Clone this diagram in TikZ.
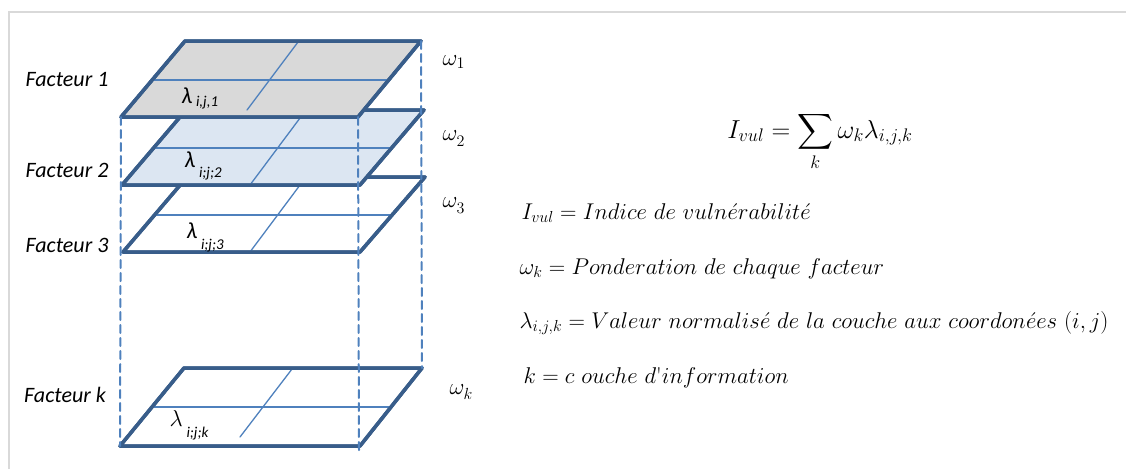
\RequirePackage{fix-cm}
\documentclass[tikz,border=0pt]{standalone}
\usepackage{tkz-euclide}
\usepackage{amsmath}
\usepackage{fontspec}
\newfontfamily\calibri{Carlito}
\definecolor{edgeblue}{RGB}{56,93,138}
\definecolor{gridblue}{RGB}{79,129,189}
\definecolor{greyfill}{RGB}{217,217,217}
\definecolor{bluefill}{RGB}{220,230,242}
\definecolor{framegrey}{RGB}{217,217,217}
\tikzset{
  couche/.style={line width=3.5pt,draw=edgeblue},
  grille/.style={line width=1.3pt,draw=gridblue},
  repere/.style={line width=2pt,draw=gridblue,dash pattern=on 8pt off 5pt},
  facteur/.style={font=\fontsize{22}{26}\selectfont\calibri\itshape},
  poids/.style={anchor=base west,font=\fontsize{23}{26}\selectfont},
  indice/.style={anchor=base west,font=\fontsize{23}{26}\selectfont\calibri},
  definition/.style={anchor=base west,font=\fontsize{22.8}{26}\selectfont}
}

\begin{document}
\begin{tikzpicture}[x=1pt,y=-1pt]

    \useasboundingbox (0,0) rectangle (1126,469);
    \draw[framegrey,line width=1.5pt] (9,469) -- (9,12) -- (1126,12);

    % couche k
    \tkzDefPoint(120,446){Ak} \tkzDefPoint(360,446){Bk}
    \tkzDefPoint(422,368){Ck} \tkzDefPoint(184,368){Dk}
    \tkzDefPoint(152,407){Ek} \tkzDefPoint(391,407){Fk}
    \tkzDefPoint(292,369){Gk} \tkzDefPoint(240,437){Hk}
    \tkzDefPoint(359,451){Pk}
    \tkzDrawPolygon[couche,fill=white](Ak,Bk,Ck,Dk)
    \tkzDrawSegments[grille](Ek,Fk Gk,Hk)
    \tkzDrawPolygon[couche](Ak,Bk,Ck,Dk)

    % couche 3
    \tkzDefPoint(123,252){A3} \tkzDefPoint(360,252){B3}
    \tkzDefPoint(425,177){C3} \tkzDefPoint(187,177){D3}
    \tkzDefPoint(155,215){E3} \tkzDefPoint(393,215){F3}
    \tkzDefPoint(306,177){G3} \tkzDefPoint(250,252){H3}
    \tkzDrawPolygon[couche,fill=white](A3,B3,C3,D3)
    \tkzDrawSegments[grille](E3,F3 G3,H3)
    \tkzDrawPolygon[couche](A3,B3,C3,D3)

    % couche 2
    \tkzDefPoint(122,185){A2} \tkzDefPoint(360,185){B2}
    \tkzDefPoint(424,110){C2} \tkzDefPoint(186,110){D2}
    \tkzDefPoint(154,148){E2} \tkzDefPoint(392,148){F2}
    \tkzDefPoint(306,110){G2} \tkzDefPoint(250,185){H2}
    \tkzDrawPolygon[couche,fill=bluefill](A2,B2,C2,D2)
    \tkzDrawSegments[grille](E2,F2 G2,H2)
    \tkzDrawPolygon[couche](A2,B2,C2,D2)

    % couche 1
    \tkzDefPoint(121,117){A1} \tkzDefPoint(358,117){B1}
    \tkzDefPoint(421,41){C1} \tkzDefPoint(185,41){D1}
    \tkzDefPoint(153,80){E1} \tkzDefPoint(389,80){F1}
    \tkzDefPoint(298,42){G1} \tkzDefPoint(247,110){H1}
    \tkzDrawPolygon[couche,fill=greyfill](A1,B1,C1,D1)
    \tkzDrawSegments[grille](E1,F1 G1,H1)
    \tkzDrawPolygon[couche](A1,B1,C1,D1)

    % aretes verticales
    \tkzDrawSegments[repere](A1,Ak B1,Pk C1,Ck)

    % etiquettes
    \node[facteur] (fac1) at (67,80) {Facteur 1};
    \node[facteur] (fac2) at (67,170) {Facteur 2};
    \node[facteur] (fac3) at (67,245) {Facteur 3};
    \node[facteur] (fack) at (65,395) {Facteur k};

    \node[poids] (w1) at (439,65) {$\omega_1$};
    \node[poids] (w2) at (439,140) {$\omega_{\lower3pt\hbox{$\scriptstyle 2$}}$};
    \node[poids] (w3) at (439,207) {$\omega_{\lower3pt\hbox{$\scriptstyle 3$}}$};
    \node[poids] (wk) at (446,394) {$\omega_{\lower2pt\hbox{$\scriptstyle k$}}$};

    \node[indice] (l1) at (178,103) {\itshape λ\,\raisebox{-3pt}{\fontsize{15}{15}\selectfont i,j,1}};
    \node[indice] (l2) at (181,167) {\itshape λ\,\raisebox{-10pt}{\fontsize{15}{15}\selectfont i;j;2}};
    \node[indice] (l3) at (183,238) {\itshape λ\,\raisebox{-11pt}{\fontsize{15}{15}\selectfont i;j;3}};
    \node[indice] (lk) at (166,426) {$\lambda$\,\raisebox{-11pt}{\fontsize{15}{15}\selectfont\itshape i;j;k}};

    \node[anchor=base,font=\fontsize{26}{30}\selectfont] (formule) at (820,138)
      {$\displaystyle I_{vul}=\sum_k\omega_k\lambda_{i,j,k}$};

    \node[definition] (d1) at (518,219) {$I_{vul}=Indice\ de\ vuln\acute{e}rabilit\acute{e}$};
    \node[definition] (d2) at (516,274) {$\omega_k=Ponderation\ de\ chaque\ facteur$};
    \node[definition] (d3) at (516,328) {$\lambda_{i,j,k}=Valeur\ normalis\acute{e}\ de\ la\ couche\ aux\ coordon\acute{e}es\ (i,j)$};
    \node[definition] (d4) at (520,383) {$k=c\ ouche\ d\text{\textquotesingle}information$};

\end{tikzpicture}
\end{document}
